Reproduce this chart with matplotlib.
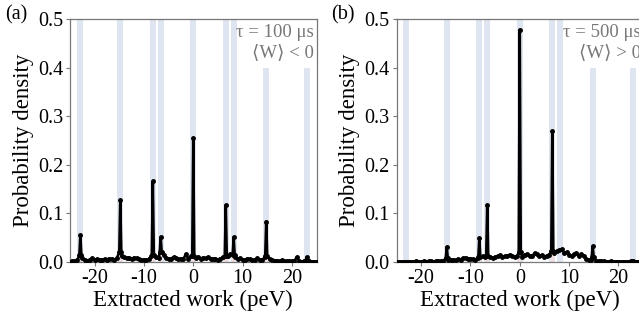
import numpy as np
import matplotlib
matplotlib.use("Agg")
from matplotlib import pyplot as plot

plot.rcParams['font.family'] = ['Liberation Serif', 'DejaVu Serif', 'DejaVu Sans']
plot.rcParams['axes.unicode_minus'] = False

# transition energies (peV) marked by the blue bands
levels = [-23.0, -14.8, -8.2, -6.6, 0.0, 6.6, 8.2, 14.8, 23.0]
bandTop = [0.5, 0.5, 0.5, 0.5, 0.5, 0.5, 0.5, 0.4, 0.4]

# (a) tau = 100 us : baseline on a 0.5 peV grid from -25 to 25
baseA = [0.001, 0.002, 0.003, 0.004, 0.006, 0.008, 0.004, 0.003, 0.005, 0.008,
         0.004, 0.006, 0.005, 0.004, 0.006, 0.005, 0.007, 0.006, 0.004, 0.008,
         0.010, 0.012, 0.010, 0.008, 0.009, 0.006, 0.009, 0.008, 0.006, 0.004,
         0.005, 0.004, 0.006, 0.012, 0.010, 0.010, 0.008, 0.010, 0.014, 0.008,
         0.006, 0.007, 0.010, 0.008, 0.006, 0.007, 0.006, 0.016, 0.007, 0.012,
         0.010,
         0.008, 0.011, 0.007, 0.009, 0.008, 0.010, 0.007, 0.006, 0.007, 0.005,
         0.007, 0.010, 0.010, 0.012, 0.016, 0.010, 0.010, 0.006, 0.008, 0.005,
         0.004, 0.007, 0.006, 0.004, 0.005, 0.008, 0.005, 0.004, 0.010, 0.010,
         0.006, 0.004, 0.003, 0.003, 0.002, 0.004, 0.003, 0.002, 0.003, 0.002,
         0.002, 0.010, 0.002, 0.001, 0.002, 0.003, 0.002, 0.001, 0.001, 0.001]
peakXA = [-22.9, -14.8, -8.2, -6.6, 0.0, 6.6, 8.2, 14.8, 23.0]
peakYA = [0.055, 0.128, 0.166, 0.051, 0.255, 0.117, 0.051, 0.083, 0.010]
shoulderA = [0.014, 0.020, 0.015, 0.020, 0.012, 0.012, 0.015, 0.012, 0.003]

# (b) tau = 500 us
baseB = [0.001, 0.001, 0.001, 0.001, 0.001, 0.001, 0.001, 0.001, 0.002, 0.001,
         0.001, 0.002, 0.001, 0.002, 0.002, 0.001, 0.002, 0.002, 0.002, 0.002,
         0.003, 0.004, 0.004, 0.005, 0.004, 0.006, 0.005, 0.008, 0.009, 0.006,
         0.007, 0.006, 0.005, 0.008, 0.010, 0.012, 0.010, 0.011, 0.010, 0.009,
         0.010, 0.012, 0.014, 0.010, 0.012, 0.013, 0.015, 0.012, 0.010, 0.012,
         0.020,
         0.010, 0.015, 0.016, 0.013, 0.012, 0.018, 0.016, 0.012, 0.014, 0.010,
         0.013, 0.015, 0.020, 0.018, 0.022, 0.024, 0.026, 0.018, 0.020, 0.014,
         0.012, 0.016, 0.018, 0.012, 0.016, 0.012, 0.006, 0.004, 0.004, 0.008,
         0.003, 0.002, 0.002, 0.002, 0.001, 0.001, 0.002, 0.001, 0.001, 0.001,
         0.001, 0.001, 0.001, 0.001, 0.002, 0.003, 0.001, 0.001, 0.001, 0.001]
peakXB = [-14.8, -8.2, -6.6, 0.0, 6.6, 14.8]
peakYB = [0.031, 0.049, 0.117, 0.478, 0.270, 0.032]
shoulderB = [0.008, 0.010, 0.012, 0.020, 0.022, 0.010]

xTicks = [-20, -10, 0, 10, 20]
yTicks = [0.0, 0.1, 0.2, 0.3, 0.4, 0.5]

panels = [
  ("(a)", baseA, peakXA, peakYA, shoulderA, "τ = 100 μs", "⟨W⟩ < 0", 70),
  ("(b)", baseB, peakXB, peakYB, shoulderB, "τ = 500 μs", "⟨W⟩ > 0", 396.5),
]

grey = '#777777'


def Series(base, px, py, sh):
  bx = np.linspace(-25, 25, len(base))
  by = np.array(base)
  px = np.array(px)
  keep = np.array([np.min(np.abs(px - v)) > 0.3 for v in bx])
  x = np.concatenate([bx[keep], px - 0.2, px, px + 0.2])
  y = np.concatenate([by[keep], sh, py, sh])
  order = np.argsort(x)
  return x[order], y[order]


###############################
fig = plot.figure(figsize=(6.39, 3.21), dpi=100)

for tag, base, px, py, sh, txt1, txt2, left in panels:
  ax = fig.add_axes([left / 639, 59 / 321, 246.5 / 639, 243 / 321])

  for lv, top in zip(levels, bandTop):
    ax.fill_between([lv - 0.6, lv + 0.6], 0, top, color='#dfe4f1', lw=0, zorder=0)

  x, y = Series(base, px, py, sh)
  ax.bar(px, py, width=0.6, color='#f3dcdc', zorder=1)
  ax.plot(x, y, '-', color='black', lw=1.9, marker='.', ms=5, zorder=3)

  ax.set_xlim(-25, 25)
  ax.set_ylim(0, 0.5)
  ax.set_xticks(xTicks)
  ax.set_yticks(yTicks)
  ax.tick_params(direction='out', length=3, width=0.8, color=grey,
                 labelsize=14.5, pad=2)
  for s in ax.spines.values():
    s.set_color(grey)
    s.set_linewidth(0.9)

  ax.set_xlabel("Extracted work (peV)", fontsize=16.5, labelpad=1)
  ax.set_ylabel("Probability density", fontsize=16.5, labelpad=3)

  ax.text(0.99, 0.945, txt1, transform=ax.transAxes, ha='right', va='center',
          fontsize=13.5, color=grey)
  ax.text(0.99, 0.86, txt2, transform=ax.transAxes, ha='right', va='center',
          fontsize=13.5, color=grey)

  fig.text((left - 65) / 639, 1 - 15 / 321, tag, ha='left', va='center', fontsize=14.5)

plot.savefig('out.png', dpi=100)
